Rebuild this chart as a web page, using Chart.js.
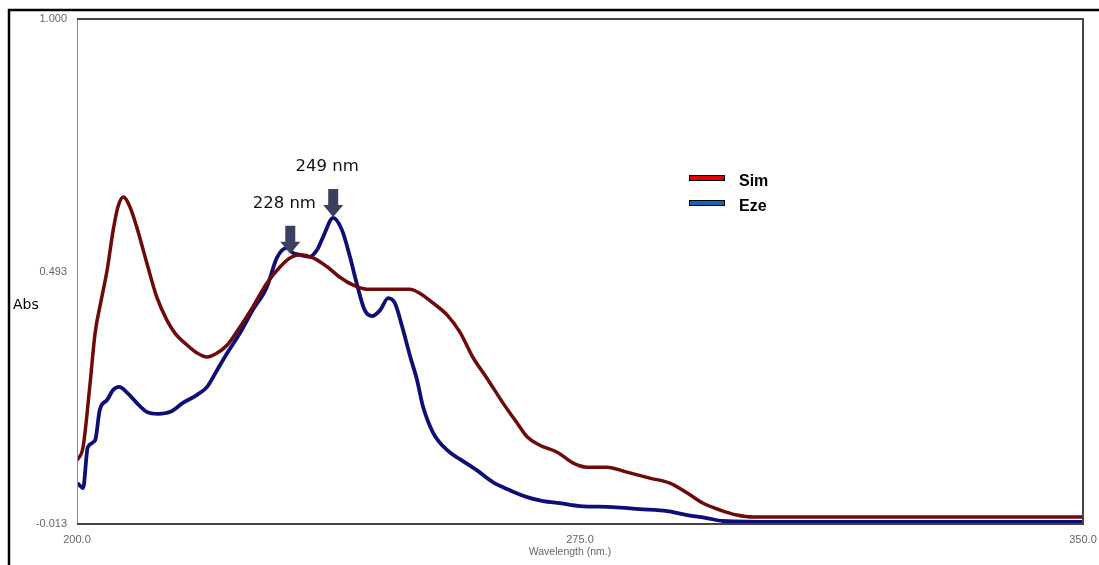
<!DOCTYPE html>
<html>
<head>
  <meta charset="UTF-8">
  <title>Sim / Eze spectra</title>
  <script src="https://cdn.jsdelivr.net/npm/chart.js"></script>
  <style>
    html,body{margin:0;padding:0;background:#fff;overflow:hidden;}
    canvas{display:block;}
  </style>
</head>
<body>
  <canvas id="spec" width="1099" height="565"></canvas>

  <script>
    // data
    const simWl  = [200.0,200.9,201.9,202.7,203.7,204.5,205.4,206.1,206.9,207.9,208.9,210.4,211.9,213.4,214.6,216.4,217.9,219.4,220.9,222.4,224.3,226.2,228.3,230.3,231.8,233.2,235.2,237.3,239.2,241.2,243.2,245.6,249.6,251.1,253.1,255.2,257.1,259.0,261.1,263.5,265.6,267.1,269.0,271.6,274.0,276.0,279.0,282.0,285.4,288.4,291.0,293.3,295.9,298.4,300.8,304.8,350.0];
    const simAbs = [0.115,0.141,0.262,0.370,0.442,0.497,0.577,0.623,0.643,0.623,0.583,0.511,0.442,0.396,0.370,0.346,0.330,0.322,0.330,0.346,0.382,0.422,0.470,0.503,0.521,0.527,0.521,0.503,0.482,0.466,0.458,0.458,0.458,0.450,0.430,0.406,0.372,0.322,0.280,0.230,0.190,0.162,0.145,0.131,0.109,0.101,0.101,0.091,0.079,0.069,0.049,0.029,0.015,0.005,0.001,0.001,0.001];
    const ezeWl  = [200.1,200.9,201.6,202.7,203.4,204.5,205.4,206.3,207.5,208.9,210.4,212.1,213.9,215.8,217.9,219.4,220.9,222.4,224.3,226.2,228.3,229.8,231.3,232.2,233.2,234.7,235.8,236.7,238.2,239.5,240.7,241.7,242.9,244.0,245.2,246.4,247.4,248.5,249.7,250.7,251.6,253.1,255.2,257.1,259.6,262.0,264.5,267.1,269.5,272.0,275.0,279.9,283.9,288.0,291.0,293.9,296.3,304.8,350.0];
    const ezeAbs = [0.069,0.059,0.141,0.155,0.216,0.236,0.256,0.262,0.250,0.230,0.212,0.208,0.212,0.230,0.246,0.262,0.296,0.330,0.370,0.416,0.462,0.521,0.541,0.531,0.527,0.523,0.537,0.563,0.601,0.577,0.523,0.470,0.416,0.404,0.416,0.440,0.430,0.382,0.322,0.276,0.222,0.170,0.135,0.117,0.095,0.071,0.055,0.041,0.033,0.029,0.023,0.021,0.017,0.013,0.005,-0.001,-0.007,-0.009,-0.009];

    const yTicks = [-0.013, 0.493, 1.000];
    const xTicks = [200, 275, 350];

    const peakText = ['228 nm','249 nm'];
    const peakWl   = [231.8, 238.2];
    const peakAbs  = [0.527, 0.601];

    const legendNames  = ['Sim','Eze'];
    const legendColors = ['#e00000','#1565b5'];

    const pts = (xs,ys)=>xs.map((x,i)=>({x,y:ys[i]}));

    // frame, titles, legend and arrows
    const extras = {
      id:'extras',
      afterDraw(c){
        const g=c.ctx, a=c.chartArea, sx=c.scales.x, sy=c.scales.y;
        g.save();
        // outer black frame
        g.strokeStyle='#000'; g.lineWidth=2.5;
        g.beginPath(); g.moveTo(9,565); g.lineTo(9,10); g.lineTo(1099,10); g.stroke();
        // plot box
        g.strokeStyle='#888'; g.lineWidth=1;
        g.beginPath(); g.moveTo(a.left+0.5,a.top); g.lineTo(a.left+0.5,a.bottom); g.stroke();
        g.strokeStyle='#444'; g.lineWidth=2;
        g.beginPath(); g.moveTo(a.left,a.top); g.lineTo(a.right,a.top); g.lineTo(a.right,a.bottom); g.lineTo(a.left,a.bottom); g.stroke();
        // x tick labels
        g.fillStyle='#666'; g.font='11px "Liberation Sans"'; g.textAlign='center'; g.textBaseline='middle';
        xTicks.forEach(v=>g.fillText(v.toFixed(1),sx.getPixelForValue(v),540));
        g.font='10.5px "Liberation Sans"';
        g.fillText('Wavelength (nm.)',(a.left+a.right)/2-10,552);
        // y title
        g.fillStyle='#000'; g.font='14px "DejaVu Sans"'; g.textAlign='left';
        g.fillText('Abs',13,305);
        // legend
        legendNames.forEach((n,i)=>{
          const y=178+i*25;
          g.fillStyle='#000'; g.fillRect(689,y-3,36,6);
          g.fillStyle=legendColors[i]; g.fillRect(690,y-2,34,4);
          g.fillStyle='#000'; g.font='bold 16px "Liberation Sans"'; g.textAlign='left';
          g.fillText(n,739,y+4);
        });
        // peak arrows
        peakText.forEach((t,i)=>{
          const px=sx.getPixelForValue(peakWl[i]), py=sy.getPixelForValue(peakAbs[i]);
          g.fillStyle='#3c4060';
          g.beginPath();
          g.moveTo(px-5,py-29); g.lineTo(px+5,py-29); g.lineTo(px+5,py-13);
          g.lineTo(px+10,py-13); g.lineTo(px,py-1); g.lineTo(px-10,py-13);
          g.lineTo(px-5,py-13); g.closePath(); g.fill();
          g.fillStyle='#111'; g.font='16.5px "DejaVu Sans"'; g.textAlign='center';
          g.fillText(t,px-6,py-51);
        });
        g.restore();
      }
    };

    new Chart(document.getElementById('spec'),{
      type:'line',
      data:{datasets:[
        {label:'Sim',data:pts(simWl,simAbs),borderColor:'#6e0a0a',borderWidth:3.5,pointRadius:0,cubicInterpolationMode:'monotone'},
        {label:'Eze',data:pts(ezeWl,ezeAbs),borderColor:'#0e0e78',borderWidth:3.8,pointRadius:0,cubicInterpolationMode:'monotone'}
      ]},
      options:{
        responsive:false,animation:false,devicePixelRatio:1,
        layout:{padding:{left:0,top:19,right:16,bottom:0}},
        plugins:{legend:{display:false},tooltip:{enabled:false}},
        scales:{
          x:{type:'linear',min:200,max:350,
            afterBuildTicks:s=>{s.ticks=xTicks.map(v=>({value:v}));},
            afterFit:s=>{s.height=41;},
            grid:{display:false},border:{display:false},
            ticks:{display:false}},
          y:{min:-0.013,max:1.0,
            afterBuildTicks:s=>{s.ticks=yTicks.map(v=>({value:v}));},
            afterFit:s=>{s.width=77;},
            grid:{display:false},border:{display:false},
            ticks:{color:'#666',font:{family:'Liberation Sans',size:11},padding:2,callback:v=>v.toFixed(3)}}
        }
      },
      plugins:[extras]
    });
  </script>
</body>
</html>
